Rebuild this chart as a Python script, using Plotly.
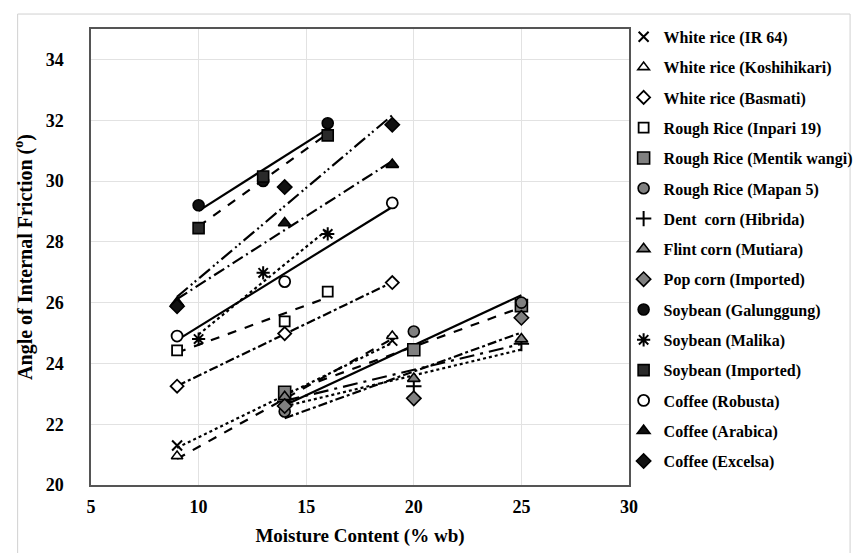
import numpy as np
import plotly.graph_objects as go

# ---- data ----
names = [
    "White rice (IR 64)", "White rice (Koshihikari)", "White rice (Basmati)",
    "Rough Rice (Inpari 19)", "Rough Rice (Mentik wangi)", "Rough Rice (Mapan 5)",
    "Dent  corn (Hibrida)", "Flint corn (Mutiara)", "Pop corn (Imported)",
    "Soybean (Galunggung)", "Soybean (Malika)", "Soybean (Imported)",
    "Coffee (Robusta)", "Coffee (Arabica)", "Coffee (Excelsa)",
]
x_ir64 = [9, 14, 19];        y_ir64 = [21.3, 22.8, 24.75]
x_koshi = [9, 14, 19];       y_koshi = [20.95, 22.65, 24.9]
x_basmati = [9, 14, 19];     y_basmati = [23.25, 24.98, 26.66]
x_inpari = [9, 14, 16];      y_inpari = [24.43, 25.38, 26.36]
x_mentik = [14, 20, 25];     y_mentik = [23.05, 24.45, 25.9]
x_mapan = [14, 20, 25];      y_mapan = [22.42, 25.05, 26.0]
x_dent = [14, 20, 25];       y_dent = [22.75, 23.25, 24.65]
x_flint = [14, 20, 25];      y_flint = [22.9, 23.5, 24.8]
x_pop = [14, 20, 25];        y_pop = [22.6, 22.85, 25.5]
x_galung = [10, 13, 16];     y_galung = [29.2, 30.0, 31.9]
x_malika = [10, 13, 16];     y_malika = [24.8, 26.98, 28.26]
x_soyimp = [10, 13, 16];     y_soyimp = [28.45, 30.15, 31.5]
x_robusta = [9, 14, 19];     y_robusta = [24.9, 26.69, 29.28]
x_arabica = [9, 14, 19];     y_arabica = [26.0, 28.62, 30.54]
x_excelsa = [9, 14, 19];     y_excelsa = [25.88, 29.8, 31.85]

xs = [x_ir64, x_koshi, x_basmati, x_inpari, x_mentik, x_mapan, x_dent, x_flint,
      x_pop, x_galung, x_malika, x_soyimp, x_robusta, x_arabica, x_excelsa]
ys = [y_ir64, y_koshi, y_basmati, y_inpari, y_mentik, y_mapan, y_dent, y_flint,
      y_pop, y_galung, y_malika, y_soyimp, y_robusta, y_arabica, y_excelsa]

x_ticks = [5, 10, 15, 20, 25, 30]
y_ticks = [20, 22, 24, 26, 28, 30, 32, 34]

# ---- styles ----
GRAY = "#808080"
BLK = "#111111"
symbols = ["x-thin-open", "triangle-up", "diamond", "square",
           "square", "circle", "cross-thin-open", "triangle-up", "diamond",
           "circle", "asterisk-open", "square", "circle", "triangle-up", "diamond"]
fills = ["black", "white", "white", "white", GRAY, GRAY, "black", GRAY, GRAY,
         BLK, "black", "#2a2a2a", "white", BLK, BLK]
dashes = ["dot", "dash", "dashdot", "dash", "dash", "solid", "dot", "longdashdot",
          "dashdot", "solid", "dot", "dash", "solid", "12px,4px,2px,4px",
          "14px,4px,2px,3px,2px,4px"]
sizes = [10, 10, 10, 10, 12, 11, 11, 11, 11, 11, 11, 11, 11, 11, 11]
lw = [2, 1.6, 1.8, 1.8, 1.6, 1.6, 2, 1.6, 1.6, 1.6, 2, 1.6, 1.8, 1.6, 1.6]

fig = go.Figure()
FONT = "Liberation Serif"

for i, (nm, x, y) in enumerate(zip(names, xs, ys)):
    xa = np.array(x, float)
    ya = np.array(y, float)
    k, b = np.polyfit(xa, ya, 1)
    xl = np.array([xa.min(), xa.max()])
    fig.add_trace(go.Scatter(
        x=xl, y=k * xl + b, mode="lines", showlegend=False, hoverinfo="skip",
        line=dict(color="black", width=2.2, dash=dashes[i])))

for i, (nm, x, y) in enumerate(zip(names, xs, ys)):
    fig.add_trace(go.Scatter(
        x=x, y=y, mode="markers", name=nm, legendgroup=f"g{i}",
        marker=dict(symbol=symbols[i], size=sizes[i], color=fills[i],
                    line=dict(color="black", width=lw[i]))))

fig.update_layout(
    width=862, height=553,
    margin=dict(l=83, r=229, t=20, b=76),
    paper_bgcolor="white", plot_bgcolor="white",
    font=dict(family=FONT, color="black"),
    legend=dict(x=0.99, xanchor="left", y=1.02, yanchor="top",
                font=dict(family=FONT, size=16, color="black", weight="bold"),
                bgcolor="rgba(0,0,0,0)", tracegroupgap=6.5, itemwidth=30,
                maxheight=545),
    xaxis=dict(range=[5, 30], tickvals=x_ticks, showgrid=True, gridcolor="#e2e2e2",
               showline=True, linecolor="#555", linewidth=1.5, mirror=True,
               ticks="", zeroline=False, ticklabelstandoff=5,
               tickfont=dict(family=FONT, size=18, weight="bold"),
               title=dict(text="Moisture Content (% wb)", standoff=12,
                          font=dict(family=FONT, size=19, weight="bold"))),
    yaxis=dict(range=[20, 35], tickvals=y_ticks, showgrid=True, gridcolor="#e2e2e2",
               showline=True, linecolor="#555", linewidth=1.5, mirror=True,
               ticks="", zeroline=False, ticklabelstandoff=22,
               tickfont=dict(family=FONT, size=18, weight="bold"),
               title=dict(text="Angle of Internal Friction (<sup>o</sup>)", standoff=8,
                          font=dict(family=FONT, size=20, weight="bold"))),
    shapes=[dict(type="rect", xref="paper", yref="paper",
                 x0=(8 - 83) / 550, x1=(859 - 83) / 550,
                 y0=(477 - 548) / 457, y1=(477 - 5) / 457,
                 line=dict(color="#d0d0d0", width=1), layer="above")],
)

fig.write_html("out.html")
